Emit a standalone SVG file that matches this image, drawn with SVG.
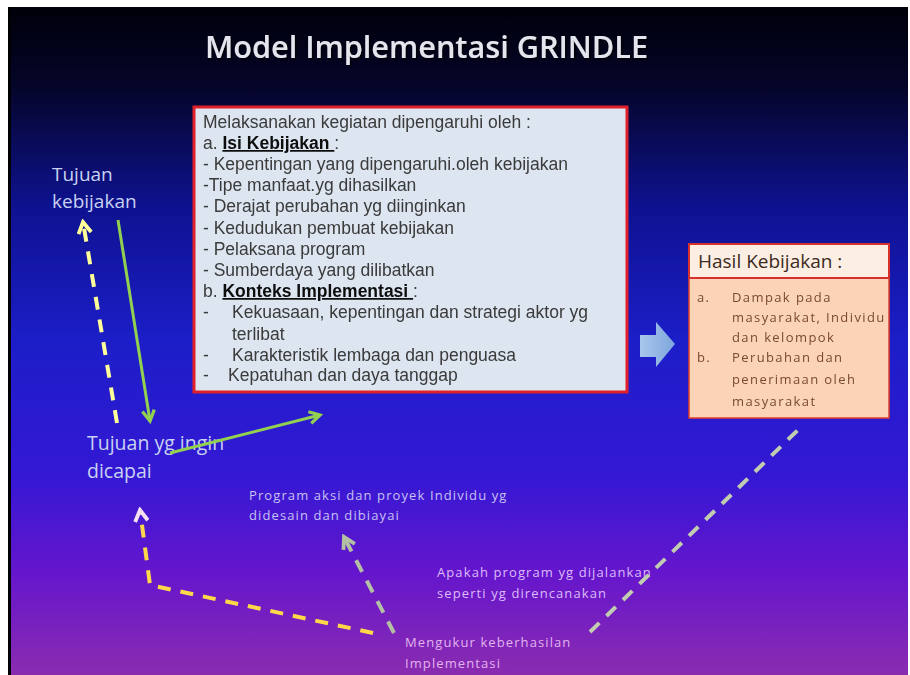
<svg xmlns="http://www.w3.org/2000/svg" width="910" height="675" viewBox="0 0 910 675">
  <defs>
    <linearGradient id="bg" x1="0" y1="0" x2="0" y2="1">
      <stop offset="0" stop-color="#00000a"/>
      <stop offset="0.12" stop-color="#05052a"/>
      <stop offset="0.3" stop-color="#0e1290"/>
      <stop offset="0.5" stop-color="#1c1ec8"/>
      <stop offset="0.7" stop-color="#3418d4"/>
      <stop offset="0.85" stop-color="#6616cc"/>
      <stop offset="1" stop-color="#8a2cb0"/>
    </linearGradient>
    <linearGradient id="blueArrow" x1="0" y1="0" x2="1" y2="0">
      <stop offset="0" stop-color="#a8c6ec"/>
      <stop offset="1" stop-color="#7ea6dc"/>
    </linearGradient>
    <filter id="soft" x="-5%" y="-5%" width="110%" height="110%">
      <feGaussianBlur stdDeviation="0.4"/>
    </filter>
    <filter id="shadow" x="-5%" y="-20%" width="110%" height="140%">
      <feDropShadow dx="1.5" dy="1.5" stdDeviation="1" flood-color="#000" flood-opacity="0.8"/>
    </filter>
    <marker id="ahGreen" viewBox="0 0 10 10" refX="8" refY="5" markerWidth="5" markerHeight="5" orient="auto" markerUnits="strokeWidth">
      <path d="M1,1 L8,5 L1,9" fill="none" stroke="#92d050" stroke-width="2.2" stroke-linejoin="miter"/>
    </marker>
    <marker id="ahYellow" viewBox="0 0 10 10" refX="8" refY="5" markerWidth="4" markerHeight="4" orient="auto" markerUnits="strokeWidth">
      <path d="M1,1 L8,5 L1,9" fill="none" stroke="#ffff99" stroke-width="2.4"/>
    </marker>
    <marker id="ahYellow2" viewBox="0 0 10 10" refX="8" refY="5" markerWidth="4" markerHeight="4" orient="auto" markerUnits="strokeWidth">
      <path d="M1,1 L8,5 L1,9" fill="none" stroke="#f4e0f0" stroke-width="2.4"/>
    </marker>
    <marker id="ahGrey" viewBox="0 0 10 10" refX="8" refY="5" markerWidth="4" markerHeight="4" orient="auto" markerUnits="strokeWidth">
      <path d="M1,1 L8,5 L1,9" fill="none" stroke="#b4c0a4" stroke-width="2.4"/>
    </marker>
    <style>
      .title { font-family: "Open Sans", "Liberation Sans", sans-serif; font-weight: 600; font-size: 31px; fill: #e4e6ee; }
      .body { font-family: "Liberation Sans", Arial, sans-serif; font-size: 17.5px; fill: #3a3a3a; }
      .bold { font-weight: 700; fill: #111; text-decoration: underline; }
      .lbl { font-family: "Open Sans", "Liberation Sans", sans-serif; fill: #c8d2f2; }
      .small { font-family: "Open Sans", "Liberation Sans", sans-serif; font-size: 13px; letter-spacing: 1.1px; }
      .hasil { font-family: "Open Sans", "Liberation Sans", sans-serif; font-size: 13px; letter-spacing: 1.4px; fill: #7a4a30; }
    </style>
  </defs>

  <!-- page margin and slide background -->
  <rect x="0" y="0" width="910" height="675" fill="#ffffff"/>
  <rect x="8" y="7" width="900" height="668" fill="url(#bg)"/>
  <rect x="8" y="7" width="3" height="668" fill="#000000"/>

  <text class="title" x="205" y="58" textLength="443" lengthAdjust="spacingAndGlyphs" filter="url(#shadow)">Model Implementasi GRINDLE</text>

  <!-- Implementation activities box -->
  <g id="kegiatan">
    <rect x="194" y="107" width="433" height="285" fill="#dde5f0" stroke="#e0202a" stroke-width="3"/>
    <g class="body" filter="url(#soft)">
      <text x="203" y="128">Melaksanakan kegiatan dipengaruhi oleh :</text>
      <text x="203" y="149">a. <tspan class="bold">Isi Kebijakan </tspan>:</text>
      <text x="203" y="170">- Kepentingan yang dipengaruhi.oleh kebijakan</text>
      <text x="203" y="191">-Tipe manfaat.yg dihasilkan</text>
      <text x="203" y="212">- Derajat perubahan yg diinginkan</text>
      <text x="203" y="234">- Kedudukan pembuat kebijakan</text>
      <text x="203" y="255">- Pelaksana program</text>
      <text x="203" y="276">- Sumberdaya yang dilibatkan</text>
      <text x="203" y="297">b. <tspan class="bold">Konteks Implementasi </tspan>:</text>
      <text x="203" y="318">-</text>
      <text x="232" y="318">Kekuasaan, kepentingan dan strategi aktor  yg</text>
      <text x="232" y="340">terlibat</text>
      <text x="203" y="361">-</text>
      <text x="232" y="361">Karakteristik lembaga dan penguasa</text>
      <text x="203" y="381">-</text>
      <text x="228" y="381">Kepatuhan dan daya tanggap</text>
    </g>
  </g>

  <!-- Block arrow to policy outcome -->
  <g id="panah-hasil">
    <polygon points="640,335 656,335 656,322 675,344 656,367 656,357 640,357" fill="url(#blueArrow)" filter="url(#soft)"/>
  </g>

  <!-- Policy outcome box -->
  <g id="hasil">
    <rect x="689" y="278" width="200" height="140" fill="#fbd3b6" stroke="#e0402a" stroke-width="1.5"/>
    <rect x="689" y="244" width="200" height="34" fill="#fdeee4" stroke="#d8302a" stroke-width="2"/>
    <text x="698" y="268" font-family="'Open Sans', 'Liberation Sans', sans-serif" font-size="19" fill="#3a2a22">Hasil Kebijakan :</text>
    <g class="hasil" filter="url(#soft)">
      <text x="697" y="302">a.</text>
      <text x="732" y="302">Dampak pada</text>
      <text x="732" y="322">masyarakat, Individu</text>
      <text x="732" y="342">dan kelompok</text>
      <text x="697" y="362">b.</text>
      <text x="732" y="362">Perubahan dan</text>
      <text x="732" y="384">penerimaan oleh</text>
      <text x="732" y="406">masyarakat</text>
    </g>
  </g>

  <g id="tujuan-kebijakan">
    <text class="lbl" x="52" y="181" font-size="19">Tujuan</text>
    <text class="lbl" x="52" y="208" font-size="19">kebijakan</text>
  </g>

  <g id="tujuan-dicapai">
    <text class="lbl" x="87" y="450" font-size="19.5">Tujuan yg ingin</text>
    <text class="lbl" x="87" y="478" font-size="19.5">dicapai</text>
  </g>

  <g id="program-aksi">
    <text class="small" x="249" y="500" fill="#c6c2f2">Program aksi dan proyek Individu yg</text>
    <text class="small" x="249" y="520" fill="#c6c2f2">didesain dan  dibiayai</text>
  </g>

  <g id="apakah-program">
    <text class="small" x="437" y="577" fill="#dcbcf8">Apakah program yg dijalankan</text>
    <text class="small" x="437" y="598" fill="#dcbcf8">seperti yg direncanakan</text>
  </g>

  <g id="mengukur">
    <text class="small" x="405" y="647" fill="#e2b4ee">Mengukur keberhasilan</text>
    <text class="small" x="405" y="668" fill="#e2b4ee">Implementasi</text>
  </g>

  <!-- connectors -->
  <g id="connectors" fill="none" stroke-linecap="butt">
    <line x1="118" y1="220" x2="150" y2="421" stroke="#92d050" stroke-width="3" marker-end="url(#ahGreen)"/>
    <line x1="170" y1="453" x2="320" y2="415" stroke="#92d050" stroke-width="3" marker-end="url(#ahGreen)"/>
    <line x1="117" y1="423" x2="83" y2="222" stroke="#ffff99" stroke-width="4" stroke-dasharray="13,10" marker-end="url(#ahYellow)"/>
    <polyline points="373,633 150,585 140,510" stroke="#ffd84a" stroke-width="4" stroke-dasharray="13,10" marker-end="url(#ahYellow2)"/>
    <line x1="394" y1="633" x2="344" y2="537" stroke="#b4c0a4" stroke-width="4" stroke-dasharray="13,10" marker-end="url(#ahGrey)"/>
    <line x1="590" y1="632" x2="803" y2="425" stroke="#c2ccb0" stroke-width="4" stroke-dasharray="13,10"/>
  </g>
</svg>
